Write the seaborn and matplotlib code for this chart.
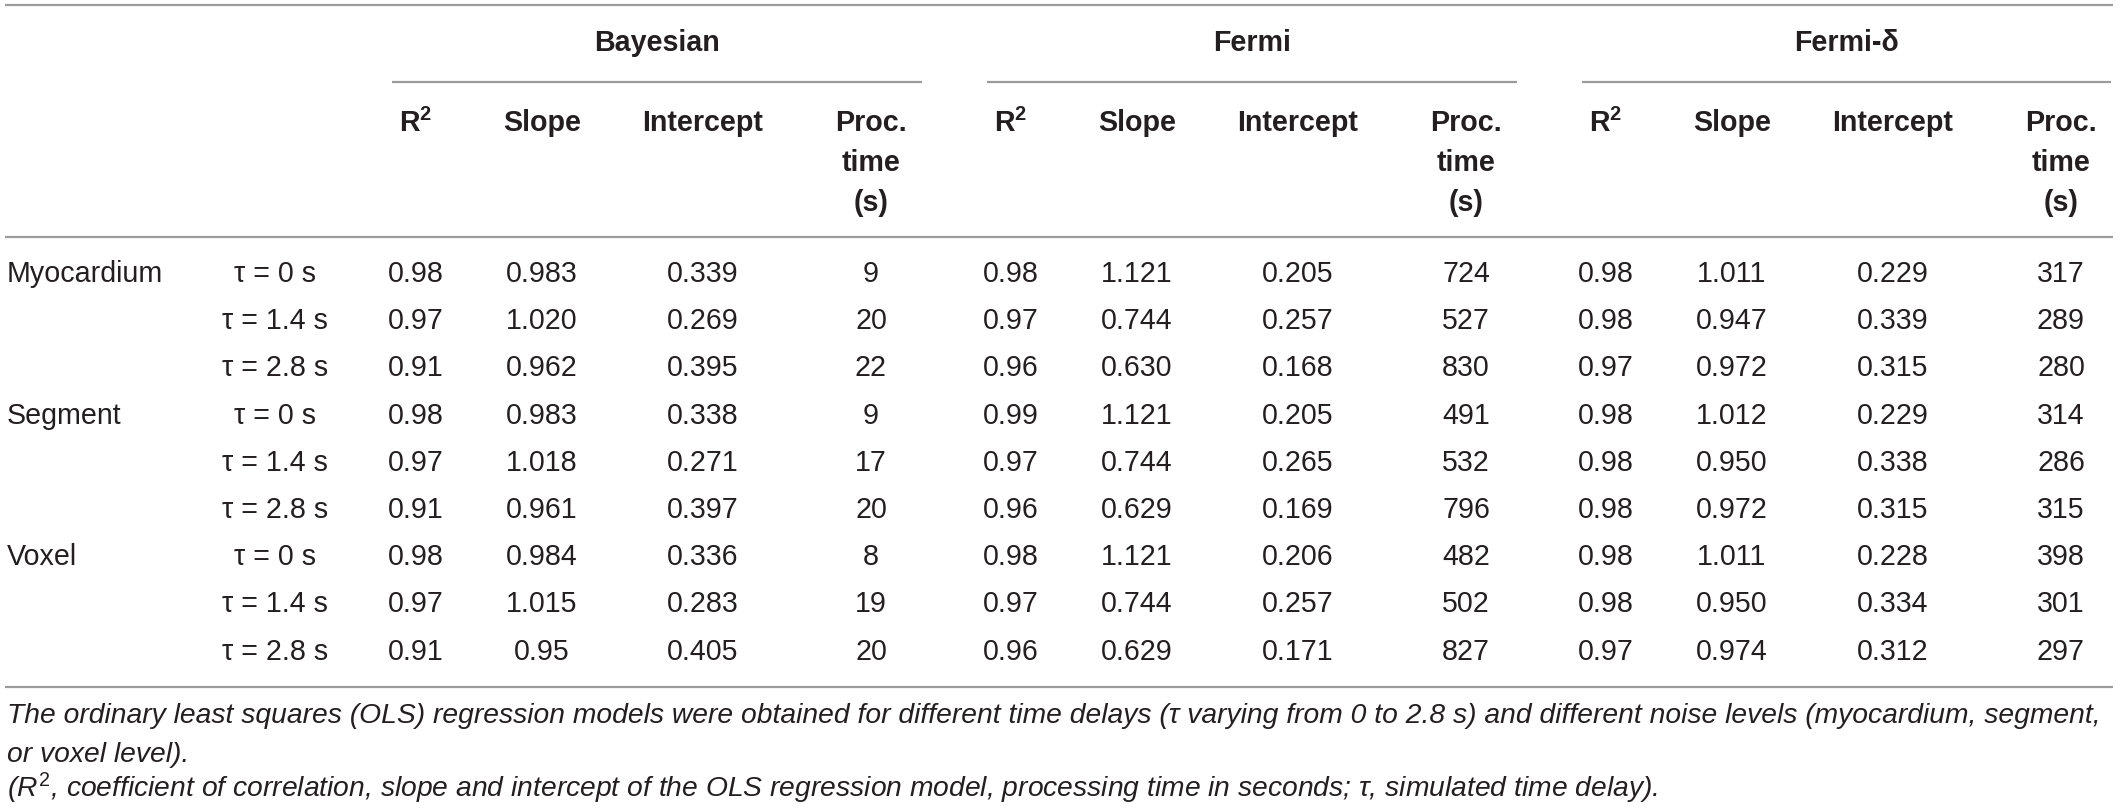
import matplotlib
matplotlib.use("Agg")
import matplotlib.pyplot as plt
import seaborn as sns
import pandas as pd

# table content
levels = ["Myocardium", "Segment", "Voxel"]
delays = ["τ = 0 s", "τ = 1.4 s", "τ = 2.8 s"]
methods = ["Bayesian", "Fermi", "Fermi-δ"]

bayes_r2 = ["0.98", "0.97", "0.91", "0.98", "0.97", "0.91", "0.98", "0.97", "0.91"]
bayes_slope = ["0.983", "1.020", "0.962", "0.983", "1.018", "0.961", "0.984", "1.015", "0.95"]
bayes_intercept = ["0.339", "0.269", "0.395", "0.338", "0.271", "0.397", "0.336", "0.283", "0.405"]
bayes_time = [9, 20, 22, 9, 17, 20, 8, 19, 20]

fermi_r2 = ["0.98", "0.97", "0.96", "0.99", "0.97", "0.96", "0.98", "0.97", "0.96"]
fermi_slope = ["1.121", "0.744", "0.630", "1.121", "0.744", "0.629", "1.121", "0.744", "0.629"]
fermi_intercept = ["0.205", "0.257", "0.168", "0.205", "0.265", "0.169", "0.206", "0.257", "0.171"]
fermi_time = [724, 527, 830, 491, 532, 796, 482, 502, 827]

fermid_r2 = ["0.98", "0.98", "0.97", "0.98", "0.98", "0.98", "0.98", "0.98", "0.97"]
fermid_slope = ["1.011", "0.947", "0.972", "1.012", "0.950", "0.972", "1.011", "0.950", "0.974"]
fermid_intercept = ["0.229", "0.339", "0.315", "0.229", "0.338", "0.315", "0.228", "0.334", "0.312"]
fermid_time = [317, 289, 280, 314, 286, 315, 398, 301, 297]

footnote = [
    "The ordinary least squares (OLS) regression models were obtained for different time delays "
    "(τ varying from 0 to 2.8 s) and different noise levels (myocardium, segment,",
    "or voxel level).",
    "($R^2$, coefficient of correlation, slope and intercept of the OLS regression model, "
    "processing time in seconds; τ, simulated time delay).",
]

sns.set_theme(style="white")
plt.rcParams["font.family"] = ["Liberation Sans", "DejaVu Sans"]
plt.rcParams["mathtext.fontset"] = "custom"
plt.rcParams["mathtext.rm"] = "Liberation Sans"
plt.rcParams["mathtext.it"] = "Liberation Sans:italic"
plt.rcParams["mathtext.bf"] = "Liberation Sans:bold"

TXT = "#231f20"
RULE = "#9b9b9b"
FS = 20.6

df = pd.DataFrame({
    "level": [lv if i % 3 == 0 else "" for i, lv in enumerate(l for l in levels for _ in delays)],
    "delay": delays * len(levels),
    "Bayesian_r2": bayes_r2, "Bayesian_slope": bayes_slope,
    "Bayesian_int": bayes_intercept, "Bayesian_time": bayes_time,
    "Fermi_r2": fermi_r2, "Fermi_slope": fermi_slope,
    "Fermi_int": fermi_intercept, "Fermi_time": fermi_time,
    "Fermi-δ_r2": fermid_r2, "Fermi-δ_slope": fermid_slope,
    "Fermi-δ_int": fermid_intercept, "Fermi-δ_time": fermid_time,
})

fig = plt.figure(figsize=(21.18, 8.10), dpi=100)
ax = fig.add_axes([0, 0, 1, 1])
ax.set_xlim(0, 2118)
ax.set_ylim(810, 0)
ax.axis("off")

# layout (pixel positions)
group_x = [0, 595, 1190]
sub_offsets = [416, 542, 703, 871]
group_span = (392, 922)
row_y0, row_dy = 274, 47.2


def rule(y, x0, x1):
    ax.plot([x0, x1], [y, y], color=RULE, lw=1.6, solid_capstyle="butt")


rule(5, 5, 2113)
rule(237, 5, 2113)
rule(687, 5, 2113)

for g, name in enumerate(methods):
    gx = group_x[g]
    cx = gx + (group_span[0] + group_span[1]) / 2
    ax.text(cx, 43, name, ha="center", va="center", fontsize=FS,
            fontweight="bold", color=TXT)
    rule(82, gx + group_span[0], min(gx + group_span[1], 2111))
    heads = [r"$\mathbf{R^2}$", "Slope", "Intercept", "Proc.\ntime\n(s)"]
    for k, h in enumerate(heads):
        ax.text(gx + sub_offsets[k], 109, h, ha="center", va="top", fontsize=FS,
                fontweight="bold", color=TXT, linespacing=1.55)

for i, row in df.iterrows():
    y = row_y0 + i * row_dy
    ax.text(7, y, row["level"], ha="left", va="center", fontsize=FS, color=TXT)
    ax.text(275, y, row["delay"], ha="center", va="center", fontsize=FS, color=TXT)
    for g, name in enumerate(methods):
        gx = group_x[g]
        vals = [row[name + "_r2"], row[name + "_slope"], row[name + "_int"], str(row[name + "_time"])]
        for k, v in enumerate(vals):
            ax.text(gx + sub_offsets[k], y, v, ha="center", va="center",
                    fontsize=FS, color=TXT)

# footnote: first line should just about reach the right edge of the table
foot_y = [723, 762, 797]
foot_texts = [ax.text(7, y, t, ha="left", va="baseline", fontsize=20, style="italic", color=TXT)
              for t, y in zip(footnote, foot_y)]
renderer = fig.canvas.get_renderer()
w = foot_texts[0].get_window_extent(renderer).width
fs_foot = 20 * 2090 / w
for t in foot_texts:
    t.set_fontsize(fs_foot)

fig.savefig("out.png", dpi=100)
